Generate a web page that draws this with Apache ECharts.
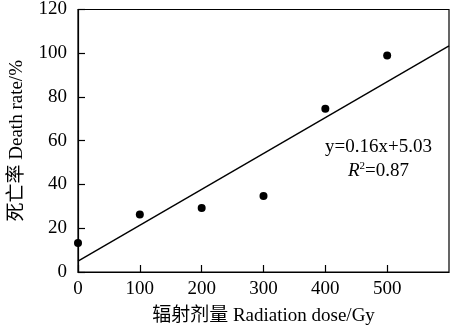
<!DOCTYPE html>
<html><head><meta charset="utf-8">
<script src="https://cdn.jsdelivr.net/npm/echarts@6/dist/echarts.min.js"></script>
<style>html,body{margin:0;padding:0;background:#fff}#c{width:450px;height:331px}</style>
</head><body><div id="c"></div>
<script>
const doseX = [0, 100, 200, 300, 400, 500];
const deathRate = [13.2, 26.3, 29.3, 34.7, 74.6, 99.0];
const fitX = [0, 600];
const fitY = [5.0, 103.4];
const xTicks = [0, 100, 200, 300, 400, 500, 600];
const yTicks = [0, 20, 40, 60, 80, 100, 120];
const equationText = 'y=0.16x+5.03';
const r2Text = '=0.87';

const font = '"Liberation Serif", "Noto Sans CJK SC", serif';
const chart = echarts.init(document.getElementById('c'));
chart.setOption({
  animation: false,
  backgroundColor: '#fff',
  grid: { left: 73, right: 1, top: 6, bottom: 56, show: true, borderColor: '#000', borderWidth: 1.2 },
  xAxis: {
    type: 'value', min: xTicks[0], max: xTicks[xTicks.length - 1], interval: 100,
    axisLine: { show: true, lineStyle: { color: '#000', width: 1.2 } },
    axisTick: { show: true, inside: true, length: 7, lineStyle: { color: '#000', width: 1.2 } },
    splitLine: { show: false },
    axisLabel: { color: '#000', fontFamily: font, fontSize: 19, margin: 8, showMaxLabel: false },
    name: '辐射剂量 Radiation dose/Gy', nameLocation: 'middle', nameGap: 35,
    nameTextStyle: { color: '#000', fontFamily: font, fontSize: 19 }
  },
  yAxis: {
    type: 'value', min: yTicks[0], max: yTicks[yTicks.length - 1], interval: 20,
    axisLine: { show: true, lineStyle: { color: '#000', width: 1.2 } },
    axisTick: { show: true, inside: true, length: 7, lineStyle: { color: '#000', width: 1.2 } },
    splitLine: { show: false },
    axisLabel: { color: '#000', fontFamily: font, fontSize: 19, margin: 11 },
    name: '死亡率 Death rate/%', nameLocation: 'middle', nameGap: 51,
    nameTextStyle: { color: '#000', fontFamily: font, fontSize: 19 }
  },
  series: [
    { type: 'line', data: fitX.map((x, i) => [x, fitY[i]]), showSymbol: false, symbol: 'none',
      lineStyle: { color: '#000', width: 1.4 }, z: 2 },
    { type: 'scatter', data: doseX.map((x, i) => [x, deathRate[i]]), symbolSize: 8,
      itemStyle: { color: '#000', opacity: 1 }, z: 3 }
  ],
  graphic: [
    { type: 'text', left: 325, top: 138, style: { text: equationText, fill: '#000', font: '19px ' + font } },
    { type: 'text', left: 348, top: 161, style: {
        text: '{i|R}{s|2}{n|' + r2Text + '}',
        rich: {
          i: { fontStyle: 'italic', fontFamily: font, fontSize: 19, color: '#000' },
          s: { fontFamily: font, fontSize: 11, verticalAlign: 'top', padding: [0, 0, 9, 0], color: '#000' },
          n: { fontFamily: font, fontSize: 19, color: '#000' }
        } } }
  ]
});
</script></body></html>
